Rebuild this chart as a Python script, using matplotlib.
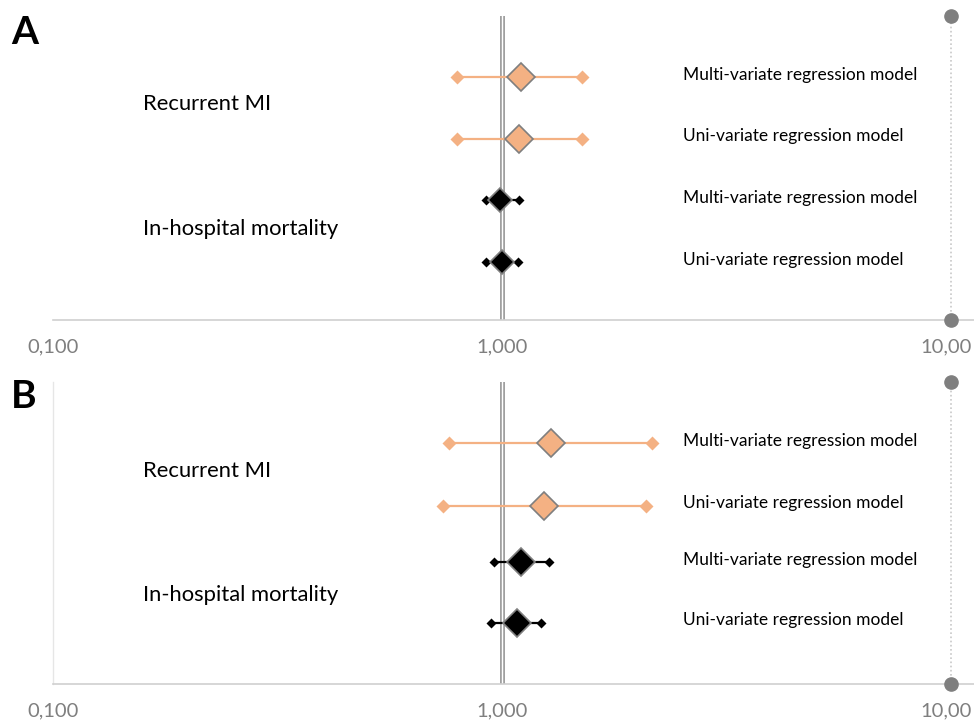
import matplotlib
matplotlib.use("Agg")
import matplotlib.pyplot as plt
import matplotlib.transforms as mtransforms

plt.rcParams['font.family'] = ['Lato', 'DejaVu Sans']

# ---- data ----
row_labels = ["Uni-variate regression model", "Multi-variate regression model",
              "Uni-variate regression model", "Multi-variate regression model"]
row_groups = ["In-hospital mortality", "In-hospital mortality", "Recurrent MI", "Recurrent MI"]
group_names = ["In-hospital mortality", "Recurrent MI"]
tick_values = [0.1, 1.0, 10.0]
tick_labels = ["0,100", "1,000", "10,00"]

# Panel A (order: Uni mortality, Multi mortality, Uni MI, Multi MI)
a_est = [1.00, 0.99, 1.09, 1.10]
a_low = [0.92, 0.92, 0.795, 0.795]
a_high = [1.085, 1.09, 1.51, 1.51]

# Panel B
b_est = [1.08, 1.10, 1.24, 1.285]
b_low = [0.945, 0.96, 0.74, 0.762]
b_high = [1.22, 1.27, 2.09, 2.16]

panels = [("A", a_est, a_low, a_high), ("B", b_est, b_low, b_high)]

ORANGE = "#F4B183"
W, H = 974, 720
fig = plt.figure(figsize=(W / 100, H / 100), dpi=100)

geom = [(320, 16), (684, 382)]
x_left_px, x_right_px = 53, 974
xmax = 10 ** ((x_right_px - x_left_px) / 449.0 - 1)

for (letter, est, low, high), (bot, top) in zip(panels, geom):
    ax = fig.add_axes([x_left_px / W, 1 - bot / H, (x_right_px - x_left_px) / W, (bot - top) / H])
    ax.set_xscale("log")
    ax.set_xlim(0.1, xmax)
    ylo = 0.06
    yhi = 4.99 if letter == "A" else 4.95
    ax.set_ylim(ylo, yhi)
    for s in ["top", "right"]:
        ax.spines[s].set_visible(False)
    ax.spines["bottom"].set_color("#D0D0D0")
    ax.spines["bottom"].set_linewidth(1.2)
    if letter == "A":
        ax.spines["left"].set_visible(False)
    else:
        ax.spines["left"].set_color("#E6E6E6")
        ax.spines["left"].set_linewidth(1.0)
    ax.set_yticks([])
    ax.set_xticks(tick_values)
    ax.set_xticklabels(tick_labels)
    ax.minorticks_off()
    ax.tick_params(axis="x", length=0, pad=13, labelsize=14.5, labelcolor="#7F7F7F")
    last = ax.get_xticklabels()[-1]
    last.set_transform(last.get_transform() + mtransforms.ScaledTranslation(-5 / 100, 0, fig.dpi_scale_trans))
    ax.patch.set_visible(False)

    # reference line at 1 (double line)
    ax.axvline(1.0, color="#A0A0A0", lw=3.6, zorder=1)
    ax.axvline(1.0, color="white", lw=1.0, zorder=1.1)

    # dotted line at 10 with circles
    ax.plot([10, 10], [ylo, yhi], color="#C8C8C8", lw=1.2, ls=(0, (1, 1.5)), zorder=1, clip_on=False)
    ax.plot([10, 10], [ylo, yhi], "o", color="#7F7F7F", ms=9.5, zorder=5, clip_on=False)

    ys = [1, 2, 3, 4] if letter == "A" else [1.05, 2.03, 2.95, 3.96]
    for i, y in enumerate(ys):
        is_mi = row_groups[i] == "Recurrent MI"
        col = ORANGE if is_mi else "black"
        ax.plot([low[i], high[i]], [y, y], color=col, lw=1.6, zorder=2)
        end_ms = 6.8 if is_mi else 5.0
        ax.plot([low[i], high[i]], [y, y], "D", color=col, ms=end_ms, mec="none", zorder=3)
        if is_mi:
            cms = 13.8 if letter == "A" else 14.5
        else:
            cms = 12.0 if letter == "A" else 14.0
        ax.plot([est[i]], [y], "D", color=col, ms=cms, mec="#7F7F7F", mew=1.2, zorder=4)

    trans = mtransforms.blended_transform_factory(ax.transAxes, ax.transData)
    for i, y in enumerate(ys):
        ax.text(0.684, y + 0.04, row_labels[i], transform=trans, fontsize=12.5, va="center", ha="left", color="black")
    off_mort = 0.03 if letter == "A" else -0.04
    ax.text(0.0977, (ys[0] + ys[1]) / 2 + off_mort, group_names[0], transform=trans, fontsize=15.8, va="center", ha="left")
    ax.text(0.0977, (ys[2] + ys[3]) / 2 + 0.06, group_names[1], transform=trans, fontsize=15.8, va="center", ha="left")

fig.text(11 / W, 1 - 33 / H, "A", fontsize=28, fontweight="bold", va="center", ha="left")
fig.text(11 / W, 1 - 396 / H, "B", fontsize=28, fontweight="bold", va="center", ha="left")

fig.savefig("out.png", dpi=100)
